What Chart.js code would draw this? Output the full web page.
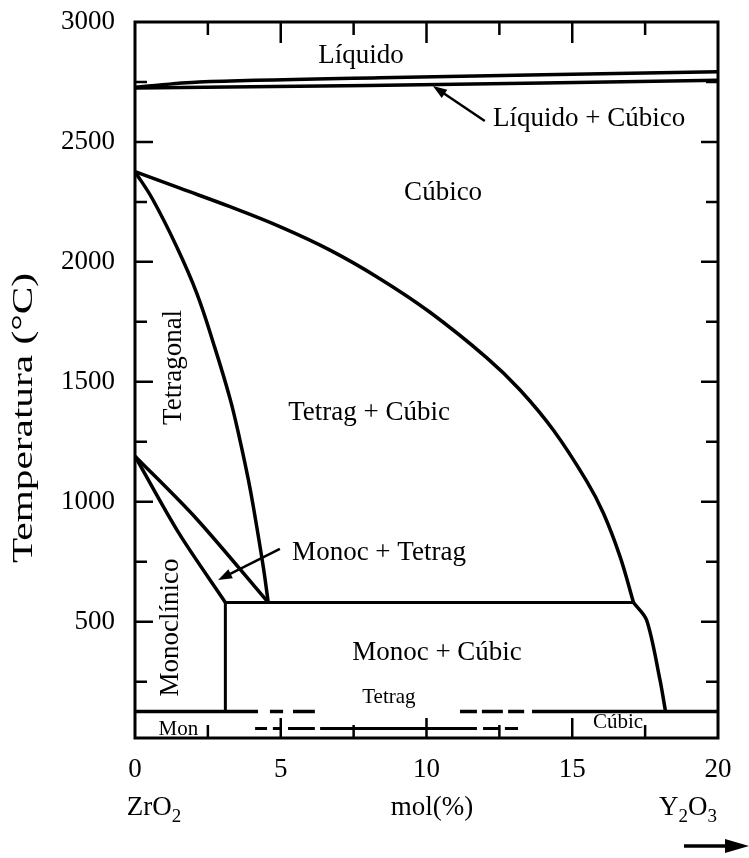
<!DOCTYPE html>
<html><head><meta charset="utf-8">
<script src="https://cdn.jsdelivr.net/npm/chart.js@4/dist/chart.umd.min.js"></script>
<style>html,body{margin:0;padding:0;background:#fff}canvas{display:block}</style>
</head><body>
<canvas id="c" width="749" height="858"></canvas>
<script>
const FONT = '"Liberation Serif","Times New Roman",serif';

// ---- data (x = mol% Y2O3, y = temperature °C) ----
const xTickLabels = [0, 5, 10, 15, 20];
const yTickLabels = [500, 1000, 1500, 2000, 2500, 3000];
const xMinorTicks = [2.5, 5, 7.5, 10, 12.5, 15, 17.5];
const yMinorTicks = [250, 500, 750, 1000, 1250, 1500, 1750, 2000, 2250, 2500, 2750];

const liquidusUpper = [[0, 2728], [2.2, 2750], [8.4, 2768], [14, 2780], [20, 2793]];
const liquidusLower = [[0, 2725], [8, 2735], [20, 2757]];
const cubicUpper = [[0, 2376], [1.54, 2307], [3.26, 2230], [4.97, 2147], [6.69, 2049], [8.4, 1930], [10.12, 1790], [12.07, 1600], [13.21, 1466], [14.35, 1299], [15.5, 1085], [16.07, 952], [16.64, 771], [17.1, 580]];
const cubicLower = [[17.1, 580], [17.55, 507], [18.01, 257], [18.2, 125]];
const tetragBoundary = [[0, 2376], [0.6, 2262], [1.43, 2063], [2.12, 1869], [2.69, 1661], [3.26, 1430], [3.6, 1257], [3.89, 1091], [4.06, 979], [4.4, 729], [4.57, 580]];
const monoBoundaryA = [[0, 1190], [1.5, 870], [3.1, 580]];
const monoBoundaryB = [[0, 1190], [2.1, 930], [4.57, 580]];
const eutectoid = [[3.1, 580], [17.1, 580]];
const monoVertical = [[3.1, 580], [3.1, 125]];
const lowLineTemp = 125;
const lowLineSegments = [[0, 4.22], [4.63, 5.08], [5.42, 6.17], [11.15, 11.73], [11.9, 12.62], [12.8, 13.35], [13.62, 20]];
const baseLineTemp = 55;
const baseLineSegments = [[4.12, 4.53], [4.73, 5.04], [5.25, 6.17], [6.35, 11.73], [11.94, 12.52], [12.69, 13.14]];

// ---- annotation text (positions in data units) ----
const annotations = [
  {t: 'Líquido', x: 7.75, y: 2829, size: 27, align: 'center'},
  {t: 'Líquido + Cúbico', x: 12.28, y: 2566, size: 27, align: 'left'},
  {t: 'Cúbico', x: 10.57, y: 2258, size: 27, align: 'center'},
  {t: 'Tetrag + Cúbic', x: 8.03, y: 1341, size: 27, align: 'center'},
  {t: 'Monoc + Tetrag', x: 5.39, y: 757, size: 27, align: 'left'},
  {t: 'Monoc + Cúbic', x: 10.36, y: 340, size: 27, align: 'center'},
  {t: 'Tetrag', x: 8.71, y: 161, size: 21, align: 'center'},
  {t: 'Mon', x: 1.49, y: 27, size: 21, align: 'center'},
  {t: 'Cúbic', x: 16.57, y: 57, size: 21, align: 'center'},
  {t: 'Tetragonal', x: 1.32, y: 1560, size: 27, align: 'center', rot: true},
  {t: 'Monoclínico', x: 1.23, y: 476, size: 27, align: 'center', rot: true}
];
const pointerArrows = [
  {from: [12.0, 2587], to: [10.22, 2733]},
  {from: [4.97, 803], to: [2.85, 674]}
];

function pts(a) { return a.map(p => ({x: p[0], y: p[1]})); }
function segs(list, temp) {
  const out = [];
  list.forEach((s, i) => {
    if (i > 0) out.push({x: (list[i - 1][1] + s[0]) / 2, y: null});
    out.push({x: s[0], y: temp}, {x: s[1], y: temp});
  });
  return out;
}
function ds(data, tension, w) {
  return {data, showLine: true, borderColor: '#000', borderWidth: w || 3.5, pointRadius: 0,
    fill: false, spanGaps: false, tension: tension || 0,
    borderCapStyle: 'butt', borderJoinStyle: 'round'};
}

const datasets = [
  ds(pts(liquidusUpper), 0.3, 3.5),
  ds(pts(liquidusLower), 0.3, 3.5),
  ds(pts(cubicUpper), 0.4),
  ds(pts(cubicLower), 0.3),
  ds(pts(tetragBoundary), 0.4),
  ds(pts(monoBoundaryA), 0.3),
  ds(pts(monoBoundaryB), 0.3),
  ds(pts(eutectoid), 0, 3),
  ds(pts(monoVertical), 0, 3),
  ds(segs(lowLineSegments, lowLineTemp), 0, 3.5),
  ds(segs(baseLineSegments, baseLineTemp), 0, 3)
];

function arrowHead(ctx, x1, y1, x2, y2, len, half) {
  const a = Math.atan2(y2 - y1, x2 - x1);
  ctx.beginPath();
  ctx.moveTo(x2, y2);
  ctx.lineTo(x2 - len * Math.cos(a) + half * Math.sin(a), y2 - len * Math.sin(a) - half * Math.cos(a));
  ctx.lineTo(x2 - len * Math.cos(a) - half * Math.sin(a), y2 - len * Math.sin(a) + half * Math.cos(a));
  ctx.closePath();
  ctx.fill();
}

const decor = {
  id: 'decor',
  afterDraw(chart) {
    const ctx = chart.ctx, xs = chart.scales.x, ys = chart.scales.y, a = chart.chartArea;
    ctx.save();
    ctx.strokeStyle = '#000'; ctx.fillStyle = '#000';
    // frame
    ctx.lineWidth = 3;
    ctx.strokeRect(a.left, a.top, a.right - a.left, a.bottom - a.top);
    // inward ticks
    ctx.lineWidth = 2.5;
    ctx.beginPath();
    yMinorTicks.forEach(v => {
      const py = ys.getPixelForValue(v);
      const maj = v % 500 === 0;
      ctx.moveTo(a.left, py); ctx.lineTo(a.left + (maj ? 18 : 12), py);
      ctx.moveTo(a.right, py); ctx.lineTo(a.right - (maj ? 17 : 12), py);
    });
    xMinorTicks.forEach(v => {
      const px = xs.getPixelForValue(v);
      const maj = v % 5 === 0;
      ctx.moveTo(px, a.top); ctx.lineTo(px, a.top + (maj ? 21 : 13));
      ctx.moveTo(px, a.bottom); ctx.lineTo(px, a.bottom - (maj ? 20 : 13));
    });
    ctx.stroke();
    // annotations
    ctx.textBaseline = 'alphabetic';
    annotations.forEach(o => {
      const px = xs.getPixelForValue(o.x), py = ys.getPixelForValue(o.y);
      ctx.font = o.size + 'px ' + FONT;
      ctx.textAlign = o.align;
      if (o.rot) {
        ctx.save(); ctx.translate(px, py); ctx.rotate(-Math.PI / 2);
        ctx.textBaseline = 'middle'; ctx.fillText(o.t, 0, 0); ctx.restore();
      } else {
        ctx.fillText(o.t, px, py);
      }
    });
    // pointer arrows
    ctx.lineWidth = 2.5;
    pointerArrows.forEach(p => {
      const x1 = xs.getPixelForValue(p.from[0]), y1 = ys.getPixelForValue(p.from[1]);
      const x2 = xs.getPixelForValue(p.to[0]), y2 = ys.getPixelForValue(p.to[1]);
      const ang = Math.atan2(y2 - y1, x2 - x1);
      ctx.beginPath(); ctx.moveTo(x1, y1); ctx.lineTo(x2 - 8 * Math.cos(ang), y2 - 8 * Math.sin(ang)); ctx.stroke();
      arrowHead(ctx, x1, y1, x2, y2, 14, 5);
    });
    // y axis title (stretched along its length, like the reference)
    ctx.save();
    ctx.font = '29px ' + FONT;
    ctx.textAlign = 'center'; ctx.textBaseline = 'middle';
    const title = 'Temperatura (°C)';
    const w = ctx.measureText(title).width;
    ctx.translate(24, 418);
    ctx.rotate(-Math.PI / 2);
    ctx.scale(290 / w, 1);
    ctx.fillText(title, 0, 0);
    ctx.restore();
    // bottom labels with subscripts
    function chem(parts, cx, base) {
      let total = 0;
      parts.forEach(p => { ctx.font = (p[1] ? 19 : 27) + 'px ' + FONT; total += ctx.measureText(p[0]).width; });
      let x = cx - total / 2;
      ctx.textAlign = 'left'; ctx.textBaseline = 'alphabetic';
      parts.forEach(p => {
        ctx.font = (p[1] ? 19 : 27) + 'px ' + FONT;
        ctx.fillText(p[0], x, base + (p[1] ? 7 : 0));
        x += ctx.measureText(p[0]).width;
      });
    }
    chem([['ZrO', 0], ['2', 1]], 154, 815);
    chem([['mol(%)', 0]], 432, 815);
    chem([['Y', 0], ['2', 1], ['O', 0], ['3', 1]], 688, 815);
    // bottom direction arrow
    ctx.lineWidth = 3.5;
    ctx.beginPath(); ctx.moveTo(684, 846); ctx.lineTo(735, 846); ctx.stroke();
    arrowHead(ctx, 684, 846, 749, 846, 24, 7);
    ctx.restore();
  }
};

new Chart(document.getElementById('c'), {
  type: 'scatter',
  data: {datasets},
  options: {
    responsive: false, animation: false, events: [],
    layout: {padding: {left: 0, right: 31, top: 22, bottom: 0}},
    plugins: {legend: {display: false}, tooltip: {enabled: false}},
    scales: {
      x: {
        type: 'linear', min: 0, max: 20,
        grid: {display: false, drawTicks: false}, border: {display: false},
        ticks: {color: '#000', font: {family: FONT, size: 27}, padding: 16, maxRotation: 0, autoSkip: false,
          callback: v => String(v)},
        afterBuildTicks(s) { s.ticks = xTickLabels.map(v => ({value: v})); },
        afterFit(s) { s.height = 120; s.paddingLeft = 0; s.paddingRight = 0; }
      },
      y: {
        type: 'linear', min: 15, max: 3000,
        grid: {display: false, drawTicks: false}, border: {display: false},
        ticks: {color: '#000', font: {family: FONT, size: 27}, padding: 20, autoSkip: false,
          callback: v => String(v)},
        afterBuildTicks(s) { s.ticks = yTickLabels.map(v => ({value: v})); },
        afterFit(s) { s.width = 135; s.paddingTop = 0; s.paddingBottom = 0; }
      }
    }
  },
  plugins: [decor]
});
</script>
</body></html>
